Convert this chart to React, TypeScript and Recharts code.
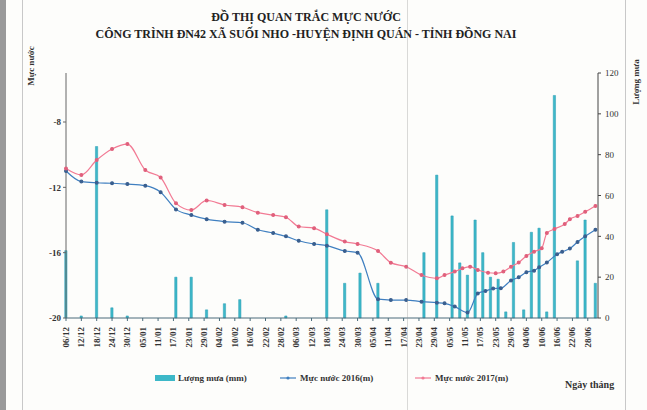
import { ComposedChart, Bar, Line, XAxis, YAxis, Legend } from 'recharts'

// nhãn trục hoành, cách nhau 6 ngày (ngày 0 = 06/12/2016)
const tickLabels = [
  '06/12', '12/12', '18/12', '24/12', '30/12', '05/01', '11/01', '17/01', '23/01', '29/01',
  '04/02', '10/02', '16/02', '22/02', '28/02', '06/03', '12/03', '18/03', '24/03', '30/03',
  '05/04', '11/04', '17/04', '23/04', '29/04', '05/05', '11/05', '17/05', '23/05', '29/05',
  '04/06', '10/06', '16/06', '22/06', '28/06',
]

// lượng mưa (mm)
const rainDay = [0, 6, 12, 18, 24, 43, 49, 55, 62, 68, 86, 102, 109, 115, 122, 140, 145, 151, 154, 157, 160, 163, 166, 169, 172, 175, 179, 182, 185, 188, 191, 200, 203, 207]
const rainMm = [33, 1, 84, 5, 1, 20, 20, 4, 7, 9, 1, 53, 17, 22, 17, 32, 70, 50, 27, 21, 48, 32, 20, 19, 3, 37, 4, 42, 44, 3, 109, 28, 48, 17]

// mực nước 2016 (m)
const day2016 = [0, 6, 12, 18, 24, 31, 37, 43, 49, 55, 62, 69, 75, 81, 86, 91, 97, 102, 109, 114, 122, 127, 133, 139, 145, 148, 152, 157, 161, 164, 167, 170, 174, 177, 180, 183, 185, 188, 192, 194, 197, 200, 203, 207]
const level2016 = [-11.0, -11.65, -11.72, -11.75, -11.8, -11.9, -12.3, -13.35, -13.7, -13.95, -14.1, -14.17, -14.6, -14.8, -15.0, -15.27, -15.47, -15.57, -15.9, -16.0, -18.85, -18.9, -18.9, -19.0, -19.06, -19.1, -19.3, -19.67, -18.5, -18.35, -18.2, -18.18, -17.7, -17.5, -17.2, -17.1, -16.9, -16.6, -16.1, -15.95, -15.75, -15.35, -15.0, -14.6]

// mực nước 2017 (m)
const day2017 = [0, 6, 12, 18, 24, 31, 37, 43, 49, 55, 62, 69, 75, 81, 86, 91, 97, 102, 109, 114, 122, 127, 133, 139, 145, 148, 152, 155, 158, 161, 165, 168, 171, 174, 177, 180, 183, 186, 188, 191, 195, 197, 200, 203, 207]
const level2017 = [-10.85, -11.24, -10.33, -9.65, -9.35, -10.94, -11.4, -12.98, -13.39, -12.8, -13.08, -13.22, -13.55, -13.7, -13.83, -14.4, -14.5, -14.87, -15.32, -15.47, -15.9, -16.61, -16.86, -17.37, -17.57, -17.37, -17.16, -16.96, -16.86, -17.06, -17.23, -17.26, -17.16, -16.86, -16.6, -16.2, -15.94, -15.73, -14.8, -14.55, -14.25, -13.95, -13.75, -13.5, -13.14]

const rows = new Map<number, any>()
const rowFor = (d: number) => {
  if (!rows.has(d)) rows.set(d, { day: d })
  return rows.get(d)
}
rainDay.forEach((d, i) => { rowFor(d).rain = rainMm[i] })
day2016.forEach((d, i) => { rowFor(d).l2016 = level2016[i] })
day2017.forEach((d, i) => { rowFor(d).l2017 = level2017[i] })
const data = [...rows.values()].sort((a, b) => a.day - b.day)

const FONT = '"Liberation Serif", "DejaVu Serif", serif'
const RAIN = '#3db8c8'
const BLUE = '#3f7fc0'
const PINK = '#f27a94'

const DateTick = ({ x, y, payload }: any) => {
  const ty = y + 4
  return (
    <text
      x={x}
      y={ty}
      dy={3}
      transform={`rotate(-90 ${x} ${ty})`}
      textAnchor="end"
      fontSize={9}
      fontWeight="bold"
      fontFamily={FONT}
      fill="#333"
    >
      {tickLabels[Math.round(payload.value / 6)]}
    </text>
  )
}

const LegendBox = () => (
  <svg width={647} height={20}>
    <rect x={155} y={7} width={20} height={6} fill={RAIN} />
    <text x={178} y={13} fontSize={9} fontWeight="bold" fontFamily={FONT} fill="#333">Lượng mưa (mm)</text>
    <line x1={280} x2={296} y1={10} y2={10} stroke={BLUE} strokeWidth={1.2} />
    <circle cx={288} cy={10} r={1.6} fill={BLUE} />
    <text x={300} y={13} fontSize={9} fontWeight="bold" fontFamily={FONT} fill="#333">Mực nước 2016(m)</text>
    <line x1={415} x2={431} y1={10} y2={10} stroke={PINK} strokeWidth={1.2} />
    <circle cx={423} cy={10} r={1.6} fill={PINK} />
    <text x={435} y={13} fontSize={9} fontWeight="bold" fontFamily={FONT} fill="#333">Mực nước 2017(m)</text>
  </svg>
)

export default function App() {
  return (
    <div style={{ position: 'absolute', left: 0, top: 0, width: 647, height: 410, background: '#fdfdfb', fontFamily: FONT, overflow: 'hidden' }}>
      <div style={{ position: 'absolute', left: 0, top: 0, width: 6, height: 410, background: '#9a9a9a' }} />
      <div style={{ position: 'absolute', left: 22, top: 0, width: 1, height: 410, background: '#c8c8c8' }} />
      <div style={{ position: 'absolute', left: 625, top: 0, width: 1, height: 410, background: '#c8c8c8' }} />
      <div style={{ position: 'absolute', left: 0, top: 9, width: 612, textAlign: 'center', fontSize: 12, fontWeight: 'bold', lineHeight: '17px', color: '#222' }}>
        <div>ĐỒ THỊ QUAN TRẮC MỰC NƯỚC</div>
        <div>CÔNG TRÌNH ĐN42 XÃ SUỐI NHO -HUYỆN ĐỊNH QUÁN - TỈNH ĐỒNG NAI</div>
      </div>
      <div style={{ position: 'absolute', left: 31, top: 66, transform: 'translate(-50%, -50%) rotate(-90deg)', fontSize: 9, fontWeight: 'bold', whiteSpace: 'nowrap', color: '#333' }}>
        Mực nước
      </div>
      <div style={{ position: 'absolute', left: 636, top: 82, transform: 'translate(-50%, -50%) rotate(-90deg)', fontSize: 9, fontWeight: 'bold', whiteSpace: 'nowrap', color: '#333' }}>
        Lượng mưa
      </div>
      <div style={{ position: 'absolute', left: 565, top: 379, fontSize: 10, fontWeight: 'bold', color: '#333' }}>
        Ngày tháng
      </div>
      <ComposedChart
        width={647}
        height={410}
        data={data}
        margin={{ top: 73, right: 0, bottom: 12, left: 0 }}
        style={{ position: 'absolute', left: 0, top: 0 }}
      >
        <XAxis
          dataKey="day"
          type="number"
          domain={[0, 208]}
          ticks={tickLabels.map((_, i) => i * 6)}
          interval={0}
          tick={<DateTick />}
          tickSize={3}
          height={40}
          stroke="#4a6b7a"
        />
        <YAxis
          yAxisId="left"
          domain={[-20, -5]}
          ticks={[-20, -16, -12, -8]}
          width={66}
          tickSize={3}
          tickMargin={2}
          stroke="#666"
          tick={{ fontSize: 9, fontWeight: 'bold', fontFamily: FONT, fill: '#333' }}
        />
        <YAxis
          yAxisId="right"
          orientation="right"
          domain={[0, 120]}
          ticks={[0, 20, 40, 60, 80, 100, 120]}
          width={49}
          tickSize={3}
          tickMargin={4}
          stroke="#444"
          tick={{ fontSize: 9, fontFamily: FONT, fill: '#333', textAnchor: 'start' }}
        />
        <Legend verticalAlign="bottom" height={40} content={<LegendBox />} wrapperStyle={{ left: 0, top: 368, width: 647 }} />
        <Bar yAxisId="right" dataKey="rain" name="Lượng mưa (mm)" fill={RAIN} stroke="#2a9db4" strokeWidth={0.5} barSize={3} isAnimationActive={false} />
        <Line
          yAxisId="left"
          type="monotone"
          dataKey="l2016"
          name="Mực nước 2016(m)"
          stroke={BLUE}
          strokeWidth={1.2}
          dot={{ r: 1.4, fill: '#3a5f8f', stroke: '#3a5f8f' }}
          connectNulls
          isAnimationActive={false}
        />
        <Line
          yAxisId="left"
          type="monotone"
          dataKey="l2017"
          name="Mực nước 2017(m)"
          stroke={PINK}
          strokeWidth={1.2}
          dot={{ r: 1.4, fill: '#e0607c', stroke: '#e0607c' }}
          connectNulls
          isAnimationActive={false}
        />
      </ComposedChart>
      <div style={{ position: 'absolute', left: 407, top: 0, width: 1, height: 410, background: 'rgba(150,150,150,0.35)' }} />
    </div>
  )
}
